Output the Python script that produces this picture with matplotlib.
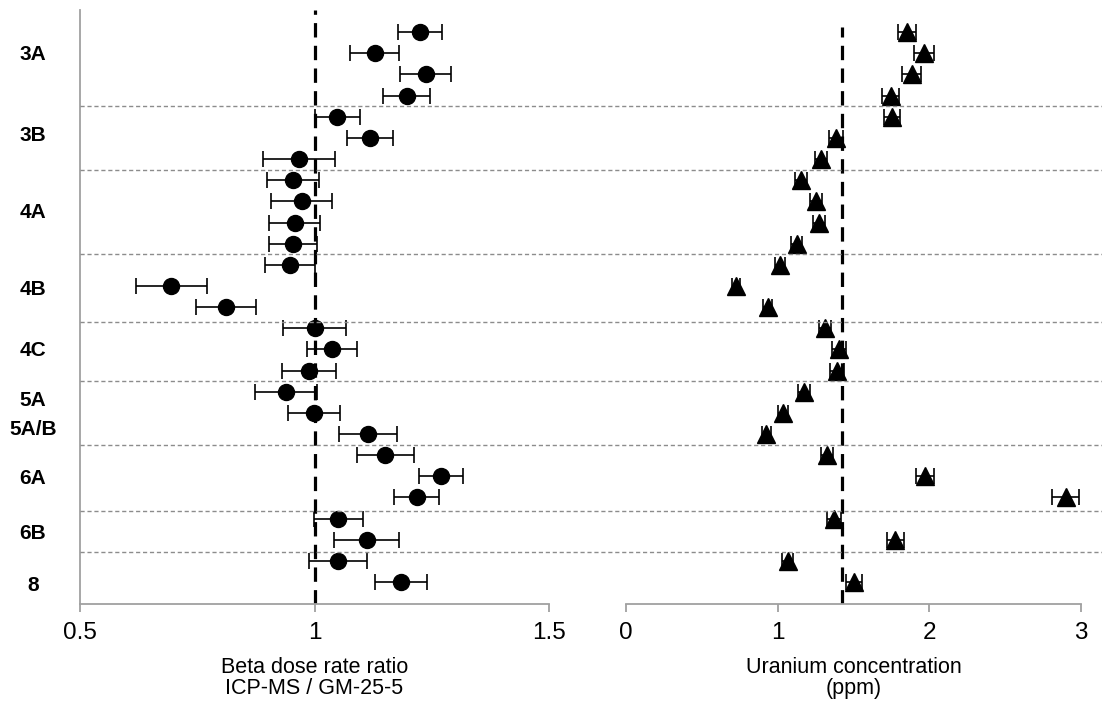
import matplotlib
matplotlib.use("Agg")
import matplotlib.pyplot as plt
from matplotlib.lines import Line2D
from matplotlib.transforms import blended_transform_factory

plt.rcParams["font.family"] = ["Liberation Sans", "DejaVu Sans"]

# Beta dose rate ratio (ICP-MS / GM-25-5), one value per sample, top to bottom
beta_ratio = [1.224, 1.128, 1.237, 1.197, 1.049, 1.119, 0.967,
              0.954, 0.973, 0.958, 0.954,
              0.948, 0.695, 0.812,
              1.000, 1.038, 0.988,
              0.940, 0.999, 1.114,
              1.151, 1.270, 1.218,
              1.051, 1.111,
              1.050, 1.184]
beta_err = [0.047, 0.053, 0.054, 0.050, 0.048, 0.049, 0.076,
            0.056, 0.065, 0.054, 0.052,
            0.053, 0.076, 0.064,
            0.067, 0.053, 0.058,
            0.066, 0.056, 0.061,
            0.061, 0.047, 0.048,
            0.053, 0.069,
            0.062, 0.056]

# Uranium concentration (ppm), same samples
uranium = [1.855, 1.964, 1.883, 1.745, 1.753, 1.384, 1.283,
           1.154, 1.255, 1.274, 1.125,
           1.015, 0.725, 0.934,
           1.314, 1.404, 1.393,
           1.173, 1.035, 0.925,
           1.323, 1.971, 2.898,
           1.373, 1.775,
           1.066, 1.503]
uranium_err = [0.060, 0.064, 0.060, 0.055, 0.055, 0.045, 0.040,
               0.040, 0.040, 0.040, 0.035,
               0.035, 0.025, 0.030,
               0.040, 0.045, 0.045,
               0.040, 0.035, 0.030,
               0.040, 0.058, 0.090,
               0.045, 0.056,
               0.035, 0.055]

# Reference values
beta_reference = 1.0
uranium_reference = 1.424

# Unit labels and the row positions at which they are written
unit_labels = ["3A", "3B", "4A", "4B", "4C", "5A", "5A/B", "6A", "6B", "8"]
unit_label_rows = [1.07, 4.89, 8.52, 12.18, 15.05, 17.42, 18.8, 21.12, 23.72, 26.17]
# Boundaries between units (row coordinates)
unit_boundaries = [3.5, 6.5, 10.5, 13.7, 16.5, 19.5, 22.65, 24.6]

beta_ticks = [0.5, 1, 1.5]
beta_ticklabels = ["0.5", "1", "1.5"]
uranium_ticks = [0, 1, 2, 3]
uranium_ticklabels = ["0", "1", "2", "3"]

rows = list(range(len(beta_ratio)))

W, H = 1102, 713
fig = plt.figure(figsize=(W / 100, H / 100), dpi=100)
ax1 = fig.add_axes([80 / W, 109 / H, 469 / W, 594 / H])
ax2 = fig.add_axes([626 / W, 109 / H, 455 / W, 594 / H])

spine_color = "#a0a0a0"
ylim = (27.04, -1.05)

for ax in (ax1, ax2):
    ax.set_ylim(*ylim)
    ax.set_facecolor("none")
    for s in ("top", "right"):
        ax.spines[s].set_visible(False)
    ax.spines["bottom"].set_color(spine_color)
    ax.spines["bottom"].set_linewidth(1.3)
    ax.spines["left"].set_color(spine_color)
    ax.spines["left"].set_linewidth(1.3)
    ax.set_yticks([])
    ax.tick_params(axis="x", direction="out", length=6, width=1.3,
                   color=spine_color, labelsize=17.5, pad=7, labelcolor="black")
ax2.spines["left"].set_visible(False)

label_kw = dict(fontsize=15.5, labelpad=9, linespacing=1.05)

# Left panel: beta dose rate ratio
ax1.set_xlim(0.5, 1.5)
ax1.set_xticks(beta_ticks)
ax1.set_xticklabels(beta_ticklabels)
ax1.axvline(beta_reference, color="black", lw=2.3, ls=(0, (4.5, 2.6)), zorder=2)
ax1.errorbar(beta_ratio, rows, xerr=beta_err, fmt="o", color="black",
             ms=11.5, ecolor="black", elinewidth=1.2, capsize=6, capthick=1.2,
             zorder=3)
ax1.set_xlabel("Beta dose rate ratio\nICP-MS / GM-25-5", **label_kw)

# Right panel: uranium concentration
ax2.set_xlim(0, 3)
ax2.set_xticks(uranium_ticks)
ax2.set_xticklabels(uranium_ticklabels)
ax2.axvline(uranium_reference, ymax=0.972, color="black", lw=2.3,
            ls=(0, (4.5, 2.6)), zorder=2)
ax2.errorbar(uranium, rows, xerr=uranium_err, fmt="^", color="black",
             ms=12.5, ecolor="black", elinewidth=1.2, capsize=6, capthick=1.2,
             zorder=3)
ax2.set_xlabel("Uranium concentration\n(ppm)", **label_kw)

# Dashed unit boundaries running across both panels
tr = blended_transform_factory(fig.transFigure, ax1.transData)
for b in unit_boundaries:
    fig.add_artist(Line2D([80 / W, 1.0], [b, b], transform=tr,
                          color="#8c8c8c", lw=1.0, ls=(0, (3, 2)), zorder=1))

# Unit labels at the left
for lab, r in zip(unit_labels, unit_label_rows):
    fig.text(33 / W, r, lab, transform=tr, ha="center", va="center",
             fontsize=15, fontweight="bold")

fig.savefig("out.png", dpi=100)
